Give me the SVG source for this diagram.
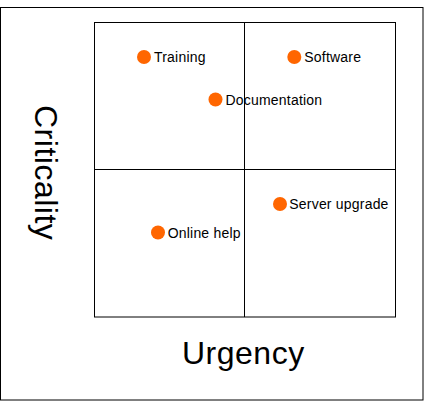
<svg xmlns="http://www.w3.org/2000/svg" width="424" height="401" viewBox="0 0 424 401">
<style>
.ln{fill:none;stroke:#000;stroke-width:1}
.dot{fill:#ff6600}
.lbl{font-family:"Liberation Sans",Arial,sans-serif;font-size:14px;fill:#000;letter-spacing:0.2px}
.axis{font-family:"Liberation Sans",Arial,sans-serif;font-size:32px;fill:#000;letter-spacing:0.5px}
</style>
<rect width="424" height="401" fill="#fff"/>
<rect class="ln" x="0.5" y="7.5" width="422.5" height="392.5"/>
<g id="grid">
<rect class="ln" x="94.5" y="22.5" width="301" height="294.5"/>
<line class="ln" x1="244.5" y1="22.5" x2="244.5" y2="317"/>
<line class="ln" x1="94.5" y1="169.5" x2="395.5" y2="169.5"/>
</g>
<g id="training"><circle class="dot" cx="144" cy="57" r="7"/><text class="lbl" x="154" y="62">Training</text></g>
<g id="software"><circle class="dot" cx="294.3" cy="57" r="7"/><text class="lbl" x="304.3" y="62">Software</text></g>
<g id="documentation"><circle class="dot" cx="215.5" cy="99.5" r="7"/><text class="lbl" x="225.5" y="104.7">Documentation</text></g>
<g id="server"><circle class="dot" cx="280" cy="204" r="7"/><text class="lbl" x="289.3" y="209.3">Server upgrade</text></g>
<g id="online"><circle class="dot" cx="158" cy="232.5" r="7"/><text class="lbl" x="167.7" y="237.5">Online help</text></g>
<g id="connectors"></g>
<text class="axis" x="182" y="364">Urgency</text>
<text class="axis" transform="translate(35,105) rotate(90)">Criticality</text>
</svg>
